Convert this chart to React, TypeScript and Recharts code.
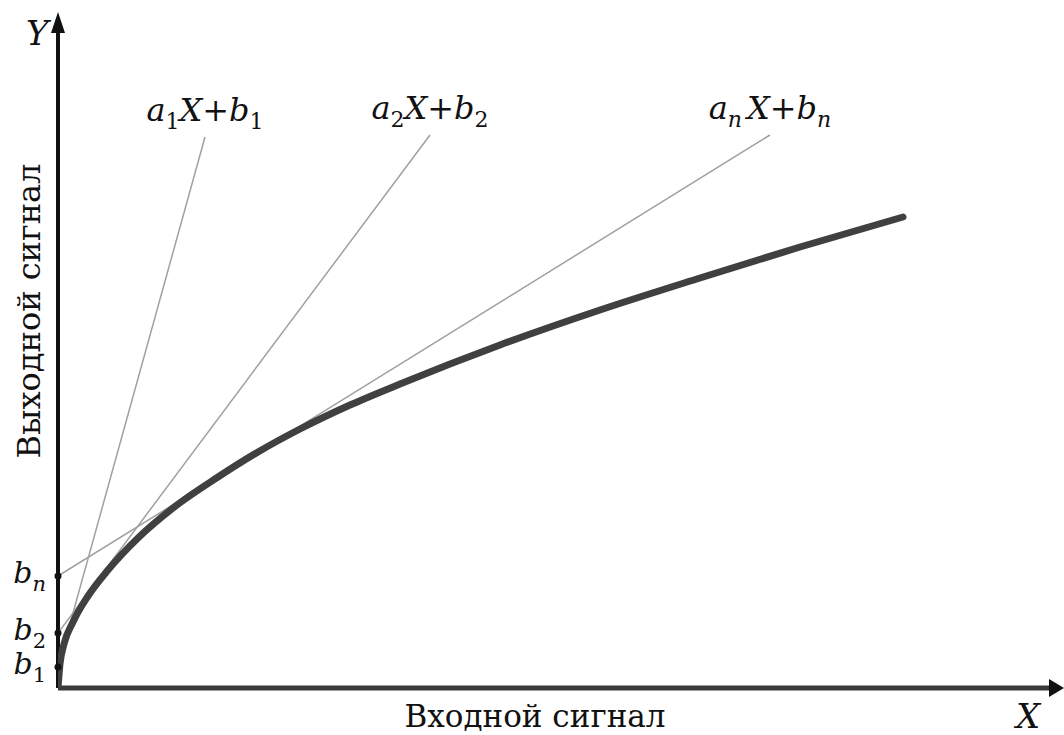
import React from 'react';
import {ComposedChart, Line, XAxis, YAxis, ReferenceLine, ReferenceDot} from 'recharts';

// curve samples (x = input, y = output, px units from origin)
const inputX = [0, 2, 6, 15, 30, 50, 80, 115, 160, 200, 242, 292, 342, 442, 542, 642, 742, 845];
const outputY = [0, 24, 44, 66, 92, 118, 150, 180, 211, 236, 259, 283, 304, 343, 378, 410, 441, 471];

// tangent lines a_i X + b_i
const tangentSubs = ['1', '2', 'n'];
const interceptB = [21, 55, 112];
const tangentEndX = [147, 372, 712];
const tangentEndY = [551, 553, 553];

const X_MAX = 1006;
const Y_MAX = 676;

const FONT = 'DejaVu Serif';

const curveData = inputX.map((x, i) => ({x, y: outputY[i]}));
const tangents = tangentSubs.map((sub, i) => ({
    sub,
    data: [{x: 0, y: interceptB[i]}, {x: tangentEndX[i], y: tangentEndY[i]}],
}));

const Sub = ({children, italic}: {children: React.ReactNode; italic?: boolean}) => (
    <tspan dy={8} fontSize={22} fontStyle={italic ? 'italic' : 'normal'}>{children}</tspan>
);

const TangentLabel = (props: any) => {
    const {x, y, index, sub} = props;
    if (index !== 1) return null;
    const it = sub === 'n';
    return (
        <text x={x} y={y - 16} textAnchor="middle" fontFamily={FONT} fontSize={32} fill="#111">
            <tspan fontStyle="italic">a</tspan>
            <Sub italic={it}>{sub}</Sub>
            <tspan dy={-8} dx={it ? 5 : 0} fontStyle="italic">X</tspan>
            <tspan>+</tspan>
            <tspan fontStyle="italic">b</tspan>
            <Sub italic={it}>{sub}</Sub>
        </text>
    );
};

const bDot = (sub: string) => (props: any) => {
    const {cx, cy} = props;
    return (
        <g>
            <circle cx={cx} cy={cy} r={3.5} fill="#111"/>
            <text x={cx - 12} y={cy + 7} textAnchor="end" fontFamily={FONT} fontSize={30} fill="#111">
                <tspan fontStyle="italic">b</tspan>
                <tspan dy={8} fontSize={21} fontStyle={sub === 'n' ? 'italic' : 'normal'}>{sub}</tspan>
            </text>
        </g>
    );
};

const ArrowUp = (props: any) => {
    const {cx, cy} = props;
    return <polygon points={`${cx},${cy} ${cx - 7},${cy + 21} ${cx + 7},${cy + 21}`} fill="#111"/>;
};

const ArrowRight = (props: any) => {
    const {cx, cy} = props;
    return <polygon points={`${cx},${cy} ${cx - 15},${cy - 9} ${cx - 15},${cy + 9}`} fill="#111"/>;
};

const App = () => {
    return (
        <div style={{position: 'absolute', left: 0, top: 0, width: 1064, height: 735, background: '#fff'}}>
            <ComposedChart width={1064} height={735} margin={{top: 12, right: 0, bottom: 47, left: 58}}>
                <XAxis dataKey="x" type="number" domain={[0, X_MAX]} allowDataOverflow hide/>
                <YAxis dataKey="y" type="number" domain={[0, Y_MAX]} allowDataOverflow hide/>
                <ReferenceLine segment={[{x: 0, y: 0}, {x: X_MAX - 14, y: 0}]} stroke="#3a3a3a" strokeWidth={5}/>
                <ReferenceLine segment={[{x: 0, y: 0}, {x: 0, y: Y_MAX - 18}]} stroke="#111" strokeWidth={4}/>
                {tangents.map(t => (
                    <Line key={t.sub} data={t.data} dataKey="y" type="linear" stroke="#a0a0a0" strokeWidth={1.5}
                          dot={false} activeDot={false} isAnimationActive={false}
                          label={(p: any) => <TangentLabel {...p} sub={t.sub}/>}/>
                ))}
                <Line data={curveData} dataKey="y" type="monotone" stroke="#404040" strokeWidth={7}
                      strokeLinecap="round" dot={false} activeDot={false} isAnimationActive={false}/>
                {tangentSubs.map((sub, i) => (
                    <ReferenceDot key={sub} x={0} y={interceptB[i]} ifOverflow="visible" shape={bDot(sub)}/>
                ))}
                <ReferenceDot x={0} y={Y_MAX} ifOverflow="visible" shape={ArrowUp}/>
                <ReferenceDot x={X_MAX} y={0} ifOverflow="visible" shape={ArrowRight}/>
            </ComposedChart>
            <svg width={1064} height={735} style={{position: 'absolute', left: 0, top: 0, pointerEvents: 'none'}}>
                <text x={26} y={45} fontFamily={FONT} fontSize={34} fontStyle="italic" fill="#111">Y</text>
                <text x={1016} y={728} fontFamily={FONT} fontSize={34} fontStyle="italic" fill="#111">X</text>
                <text x={535} y={727} textAnchor="middle" fontFamily={FONT} fontSize={31} fill="#111">Входной сигнал</text>
                <text x={40} y={311} textAnchor="middle" transform="rotate(-90 40 311)" fontFamily={FONT}
                      fontSize={32} fill="#111">Выходной сигнал</text>
            </svg>
        </div>
    );
};

export default App;
